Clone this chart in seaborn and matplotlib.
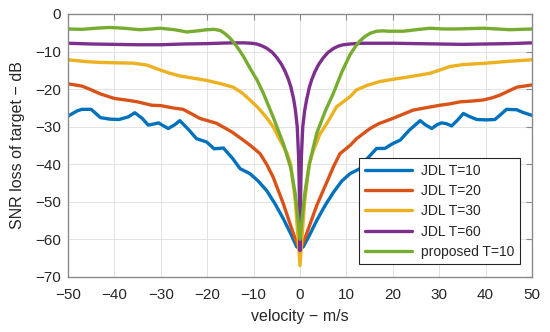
import numpy as np
import matplotlib
matplotlib.use('Agg')
import matplotlib.pyplot as plt
import pandas as pd
import seaborn as sns

sns.set_style('white')
plt.rcParams['font.family'] = ['Liberation Sans', 'DejaVu Sans']

# values
x_t10 = [-50, -48, -47, -45, -43, -41, -39, -37, -35.6, -34, -32.7, -31.5, -30.5, -29.4, -28.4, -27, -25.9, -24,
         -22.3, -20.1, -18.5, -16.5, -14.5, -12.9, -10.8, -9, -7.2, -5.4, -3.6, -2, -0.7, 0, 0.7, 2, 3.6, 5.4, 7.2,
         9, 10.8, 12.9, 14.5, 16.5, 18.3, 20, 21.6, 23.5, 25.9, 27, 28.4, 29.5, 30.5, 31.5, 32.7, 34, 35.2, 36.5,
         38.1, 40, 42, 43.5, 44.5, 46.7, 48, 50]
y_t10 = [-27.2, -25.8, -25.4, -25.4, -27.6, -28.0, -28.1, -27.4, -26.3, -27.8, -29.6, -29.3, -29.0, -29.8, -30.5,
         -29.5, -28.4, -30.8, -33.2, -34.1, -35.9, -35.7, -38.5, -41.2, -42.5, -44.5, -47.0, -50.5, -54.5, -58.5,
         -62.0, -62.5, -62.0, -59.0, -55.0, -51.0, -47.5, -44.5, -42.5, -41.2, -38.5, -35.8, -35.8, -34.5, -33.6,
         -31.0, -28.4, -29.5, -30.5, -29.5, -29.0, -29.2, -29.8, -28.2, -26.5, -27.3, -28.1, -28.2, -28.1, -26.5,
         -25.4, -25.5, -26.2, -27.0]

x_t20 = [-50, -47, -45, -43, -40, -37, -35, -32, -30, -27.5, -25.2, -23.5, -21.6, -18, -14.7, -12.2, -10.5, -8.6,
         -7.2, -5.8, -3.6, -1.4, 0, 1.4, 3.6, 5, 7.2, 8.6, 10.8, 12.2, 15.1, 17, 19.4, 22, 24.4, 27, 30.2, 32,
         34.5, 37, 39.5, 41.5, 43.1, 45, 46.7, 50]
y_t20 = [-18.6, -19.2, -20.2, -21.3, -22.5, -23.0, -23.4, -24.3, -24.4, -25.0, -25.4, -26.5, -27.8, -29.1, -31.4,
         -33.6, -35.2, -37.2, -40.0, -43.4, -50.5, -58.6, -63.0, -58.6, -51.0, -47.0, -40.7, -37.2, -35.0, -33.2,
         -30.5, -29.2, -28.1, -26.8, -25.6, -25.0, -24.3, -24.0, -23.4, -23.2, -22.9, -22.3, -21.6, -20.5, -19.5,
         -18.9]

x_t30 = [-50, -46, -43, -40, -36, -33, -30.2, -28, -25.9, -23, -20.1, -17, -14.4, -12.5, -10.8, -9, -7.2, -5.8,
         -4.3, -2.8, -2, -1, -0.4, 0, 0.4, 1, 2, 2.9, 4.3, 5.8, 7.9, 10.8, 12.2, 14.5, 17.2, 20, 23.7, 28, 30,
         32.3, 35, 40.2, 45, 50]
y_t30 = [-12.2, -12.7, -12.9, -13.0, -13.1, -13.6, -14.9, -15.8, -16.5, -17.1, -17.7, -18.6, -19.5, -21.0, -22.9,
         -25.0, -27.6, -30.0, -33.6, -37.0, -40.0, -50.0, -60.0, -67.0, -60.0, -50.0, -40.0, -36.3, -32.0, -29.1,
         -24.7, -22.0, -20.2, -19.0, -18.0, -17.4, -16.7, -15.8, -15.0, -14.0, -13.5, -13.1, -12.6, -12.2]

x_t60 = [-50, -45, -40, -35, -30, -25, -20, -15, -12, -10.5, -9.3, -8.2, -7.2, -6, -5, -4, -3.2, -2.5, -2, -1.4,
         -1, -0.6, -0.3, -0.1, 0, 0.1, 0.3, 0.6, 1, 1.4, 2, 2.5, 3.2, 4, 5, 6, 7.2, 8.2, 9.3, 10.8, 12, 13.5, 15,
         20, 25, 30, 35, 40, 45, 50]
y_t60 = [-7.8, -8.0, -8.1, -8.2, -8.2, -8.0, -7.9, -7.7, -7.7, -7.8, -8.0, -8.5, -9.1, -10.2, -11.6, -13.4, -15.3,
         -17.4, -19.3, -22.5, -25.5, -30.0, -38.0, -50.0, -63.0, -50.0, -38.0, -30.0, -25.8, -23.0, -19.6, -17.6,
         -15.4, -13.5, -11.7, -10.3, -9.2, -8.6, -8.2, -8.0, -7.9, -7.8, -7.8, -7.8, -7.9, -8.0, -8.1, -8.0, -7.9,
         -7.7]

x_prop = [-50, -47, -44, -41, -38, -34.5, -32, -30.2, -27, -24.4, -22, -20.1, -18.5, -17.2, -16.2, -15.2, -14.2,
          -13.2, -12, -10.8, -9.3, -7.9, -5.8, -3.6, -2, -1, 0, 1, 2, 3.6, 5.4, 7.2, 9, 10.8, 12, 12.9, 14,
          15.2, 16.5, 18, 19, 22.3, 25, 28, 31, 33.8, 36.5, 39.5, 42.5, 45.3, 50]
y_prop = [-4.0, -4.1, -3.8, -3.6, -3.8, -4.2, -4.0, -3.8, -4.2, -4.8, -4.5, -4.2, -4.1, -4.4, -5.2, -6.3, -7.7,
          -9.4, -11.7, -14.4, -17.5, -21.1, -27.4, -34.5, -41.0, -48.0, -60.0, -48.0, -40.0, -31.8, -26.0, -21.1,
          -15.5, -10.8, -8.6, -7.2, -6.0, -5.1, -4.6, -4.5, -4.6, -4.6, -4.2, -3.8, -4.0, -4.0, -3.9, -3.8, -4.0,
          -4.2, -4.0]

names = ['JDL T=10', 'JDL T=20', 'JDL T=30', 'JDL T=60', 'proposed T=10']
colors = ['#0072BD', '#D95319', '#EDB120', '#7E2F8E', '#77AC30']

frames = []
for name, xs, ys in zip(names, [x_t10, x_t20, x_t30, x_t60, x_prop],
                        [y_t10, y_t20, y_t30, y_t60, y_prop]):
    frames.append(pd.DataFrame({'velocity': xs, 'loss': ys, 'method': name}))
df = pd.concat(frames, ignore_index=True)

fig = plt.figure(figsize=(5.5, 3.32), dpi=100)
ax = fig.add_axes([0.1236, 0.166, 0.8437, 0.792])

sns.lineplot(data=df, x='velocity', y='loss', hue='method', hue_order=names,
             palette=colors, linewidth=2.4, ax=ax, sort=False, estimator=None)

ax.set_xlim(-50, 50)
ax.set_ylim(-70, 0)
ax.set_xticks(np.arange(-50, 51, 10))
ax.set_yticks(np.arange(-70, 1, 10))
ax.grid(True, color='#e3e3e3', linewidth=0.7)
ax.set_axisbelow(True)
for s in ax.spines.values():
    s.set_visible(True)
    s.set_color('#8a8a8a')
    s.set_linewidth(1.0)
ax.tick_params(direction='in', top=True, right=True, length=4, width=0.8,
               color='#8a8a8a', labelsize=11, labelcolor='#262626')
ax.tick_params(axis='x', pad=8)
ax.tick_params(axis='y', pad=5)
ax.set_xlabel('velocity − m/s', fontsize=11.5, color='#262626', labelpad=5)
ax.set_ylabel('SNR loss of target − dB', fontsize=11.5, color='#262626', labelpad=7)

leg = ax.legend(loc='lower right', fontsize=10, frameon=True, fancybox=False,
                edgecolor='#262626', handlelength=3.4, borderaxespad=0.9,
                labelspacing=0.45, handletextpad=0.6, borderpad=0.4)
leg.get_frame().set_linewidth(0.8)
leg.get_frame().set_alpha(1)

fig.savefig('out.png', dpi=100)
